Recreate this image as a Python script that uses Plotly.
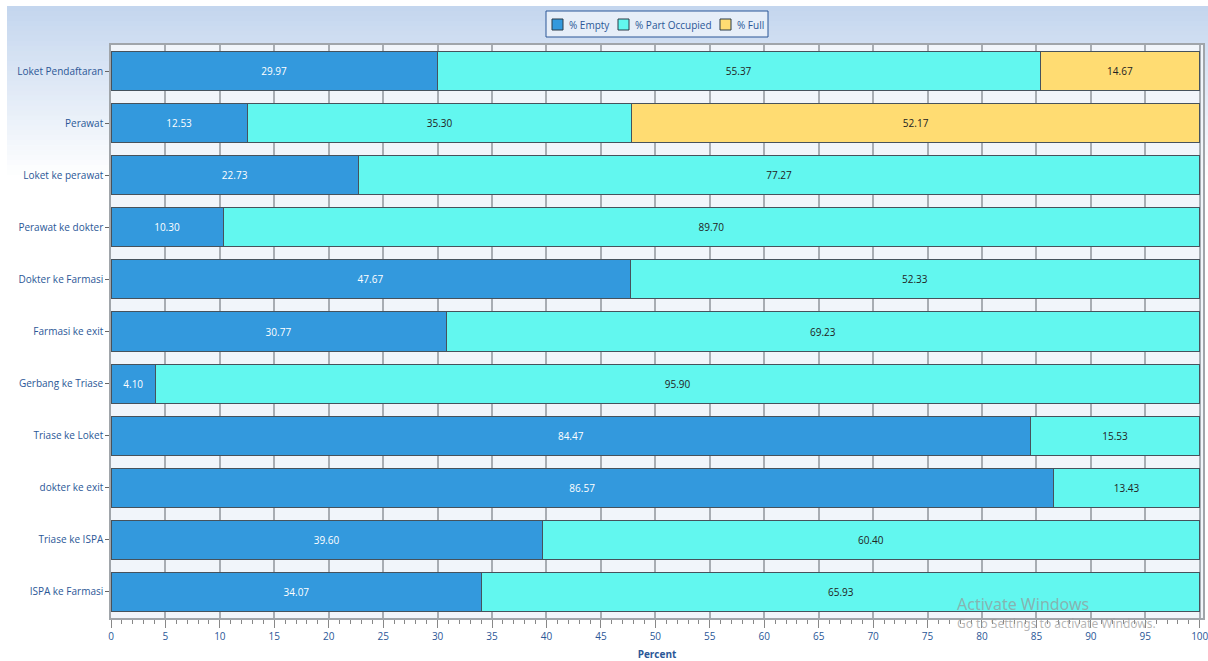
import plotly.graph_objects as go

categories = ["Loket Pendaftaran", "Perawat", "Loket ke perawat", "Perawat ke dokter",
              "Dokter ke Farmasi", "Farmasi ke exit", "Gerbang ke Triase", "Triase ke Loket",
              "dokter ke exit", "Triase ke ISPA", "ISPA ke Farmasi"]
pct_empty = [29.97, 12.53, 22.73, 10.30, 47.67, 30.77, 4.10, 84.47, 86.57, 39.60, 34.07]
pct_part = [55.37, 35.30, 77.27, 89.70, 52.33, 69.23, 95.90, 15.53, 13.43, 60.40, 65.93]
pct_full = [14.67, 52.17, 0, 0, 0, 0, 0, 0, 0, 0, 0]
series_names = ["% Empty", "% Part Occupied", "% Full"]
x_ticks = list(range(0, 101, 5))

FONT = "Open Sans"
FS = 10
TICKCOL = "#2b5797"
COLORS = ["#3399dd", "#62f7ef", "#ffdc72"]
TEXTCOLS = ["white", "#222222", "#222222"]
W, H = 1208, 661
ML, MR, MT, MB = 111, 5, 45, 43
PW, PH = W - ML - MR, H - MT - MB


def px_x(px):
    return (px - ML) / PW


def px_y(py):
    return 1 - (py - MT) / PH


def series(name, vals, color, tcolor):
    return go.Bar(
        name=name, y=categories, x=[v if v > 0 else None for v in vals], orientation="h",
        marker=dict(color=color, line=dict(color="#46525c", width=1)),
        text=[f"{v:.2f}" if v > 0 else "" for v in vals],
        textposition="inside", insidetextanchor="middle",
        textfont=dict(color=tcolor, size=FS, family=FONT),
        hoverinfo="x+y+name", showlegend=False,
    )


fig = go.Figure([
    series(series_names[0], pct_empty, COLORS[0], TEXTCOLS[0]),
    series(series_names[1], pct_part, COLORS[1], TEXTCOLS[1]),
    series(series_names[2], pct_full, COLORS[2], TEXTCOLS[2]),
])

# background: gradient from light blue at top to white further down
shapes = []
c0 = (196, 214, 238)
c1 = (255, 255, 255)
top_px, fade_end = 6, 180
n = 35
step = (fade_end - top_px) / n
for i in range(n):
    t = i / (n - 1)
    r = round(c0[0] + (c1[0] - c0[0]) * t)
    g = round(c0[1] + (c1[1] - c0[1]) * t)
    b = round(c0[2] + (c1[2] - c0[2]) * t)
    ya = top_px + i * step
    shapes.append(dict(type="rect", xref="paper", yref="paper", layer="below",
                       x0=px_x(7), x1=px_x(W),
                       y0=px_y(ya + step + 0.6), y1=px_y(ya),
                       fillcolor=f"rgb({r},{g},{b})", line=dict(width=0)))
shapes.append(dict(type="rect", xref="paper", yref="paper", layer="below",
                   x0=0, x1=1, y0=0, y1=1, fillcolor="#f1f5fa", line=dict(width=0)))

# custom legend box (top centre)
shapes.append(dict(type="rect", xref="paper", yref="paper", layer="above",
                   x0=px_x(546), x1=px_x(768), y0=px_y(37), y1=px_y(11),
                   fillcolor="#e6eef8", line=dict(color="#2b5797", width=1)))
legend_sq_x = [552, 618, 720]
legend_txt_x = [567, 633, 735]
annotations = []
for name, col, sx, tx in zip(series_names, COLORS, legend_sq_x, legend_txt_x):
    shapes.append(dict(type="rect", xref="paper", yref="paper", layer="above",
                       x0=px_x(sx), x1=px_x(sx + 11), y0=px_y(30), y1=px_y(19),
                       fillcolor=col, line=dict(color="#2a3a48", width=1)))
    annotations.append(dict(xref="paper", yref="paper", x=px_x(tx), y=px_y(24.5),
                            xanchor="left", yanchor="middle", text=name, showarrow=False,
                            font=dict(size=FS, color=TICKCOL, family=FONT)))

annotations.append(dict(xref="paper", yref="paper", x=px_x(955), y=px_y(604), xanchor="left",
                        yanchor="middle", text="Activate Windows", showarrow=False,
                        font=dict(size=16, color="rgba(150,150,150,0.7)", family="Noto Sans")))
annotations.append(dict(xref="paper", yref="paper", x=px_x(955), y=px_y(624), xanchor="left",
                        yanchor="middle", text="Go to Settings to activate Windows.", showarrow=False,
                        font=dict(size=12, color="rgba(150,150,150,0.7)", family="Noto Sans")))

fig.update_layout(
    barmode="stack",
    bargap=0.25,
    width=W, height=H,
    margin=dict(l=ML, r=MR, t=MT, b=MB, autoexpand=False),
    paper_bgcolor="white",
    plot_bgcolor="rgba(0,0,0,0)",
    shapes=shapes,
    annotations=annotations,
    showlegend=False,
    font=dict(family=FONT, size=FS, color=TICKCOL),
    xaxis=dict(range=[0, 100.3], tickvals=x_ticks, ticks="outside", ticklen=8, tickcolor="#888",
               showgrid=True, gridcolor="#a8adb3", gridwidth=1.5,
               showline=True, linecolor="#a0a5aa", linewidth=1.5, mirror=True,
               minor=dict(dtick=1, ticks="outside", ticklen=4, tickcolor="#888", showgrid=False),
               tickfont=dict(size=FS, color=TICKCOL), automargin=False, ticklabeloverflow="allow",
               title=dict(text="<b>Percent</b>", font=dict(size=FS, color=TICKCOL), standoff=11),
               zeroline=False),
    yaxis=dict(autorange="reversed", ticks="outside", ticklen=4, tickcolor="#666",
               showline=True, linecolor="#a0a5aa", linewidth=1.5, mirror=True,
               tickfont=dict(size=FS, color=TICKCOL), showgrid=False, automargin=False),
    uniformtext=dict(minsize=8, mode="show"),
)

fig.write_html("out.html", config={"displayModeBar": False},
               post_script="document.body.style.margin='0';")
